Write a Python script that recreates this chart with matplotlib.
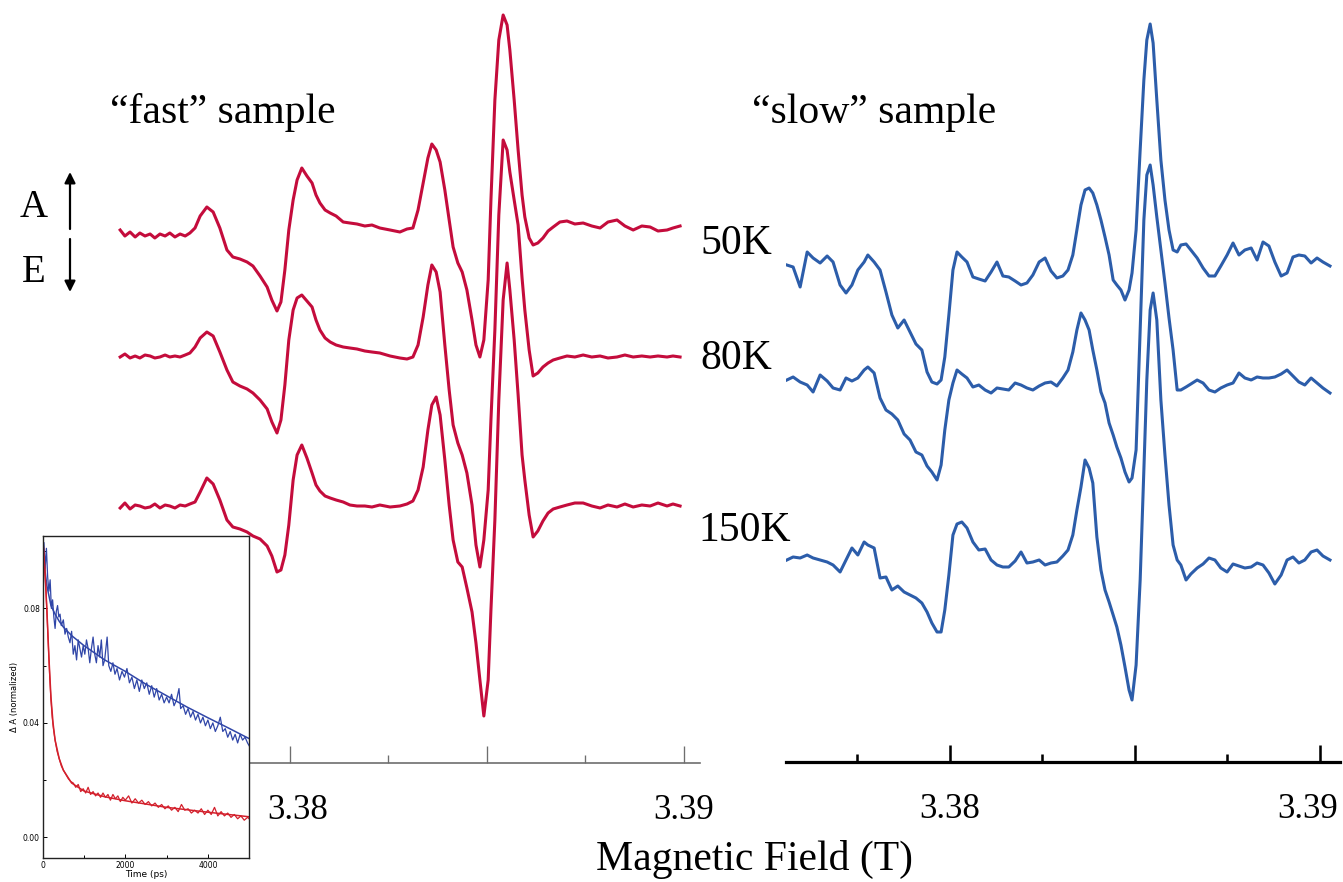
#!/usr/bin/env python3
"""
Transient EPR spectra of the "fast" and "slow" samples at three temperatures,
with the transient absorption decays shown as an inset.
"""

import matplotlib
matplotlib.use('Agg')
import matplotlib.pyplot as plt
import numpy as np
from matplotlib.patches import FancyArrowPatch
from matplotlib.transforms import ScaledTranslation

W, H = 1343, 882

# ---------------------------------------------------------------- data
# field in mT, signal in arbitrary units (positive = absorption)
field_fast = [
    3375.69, 3375.81, 3375.94, 3376.07, 3376.19, 3376.32, 3376.45, 3376.57, 3376.70, 3376.83,
    3376.95, 3377.08, 3377.21, 3377.34, 3377.46, 3377.59, 3377.72, 3377.89, 3378.05, 3378.22,
    3378.40, 3378.55, 3378.73, 3378.91, 3379.06, 3379.24, 3379.42, 3379.54, 3379.67, 3379.77,
    3379.87, 3379.97, 3380.08, 3380.18, 3380.30, 3380.43, 3380.56, 3380.66, 3380.76, 3380.89,
    3381.02, 3381.17, 3381.35, 3381.52, 3381.70, 3381.90, 3382.08, 3382.28, 3382.54, 3382.79,
    3382.97, 3383.12, 3383.25, 3383.38, 3383.50, 3383.60, 3383.71, 3383.81, 3383.93, 3384.04,
    3384.14, 3384.26, 3384.37, 3384.49, 3384.62, 3384.72, 3384.82, 3384.92, 3385.03, 3385.10,
    3385.20, 3385.30, 3385.41, 3385.51, 3385.58, 3385.69, 3385.79, 3385.89, 3385.96, 3386.07,
    3386.17, 3386.29, 3386.42, 3386.55, 3386.68, 3386.85, 3387.03, 3387.23, 3387.44, 3387.66,
    3387.87, 3388.07, 3388.30, 3388.50, 3388.71, 3388.93, 3389.14, 3389.34, 3389.57, 3389.72,
    3389.90,
]
fast_50K = [
    3, -3, 1, -4, 0, -3, -1, -5, -1, -3,
    0, -4, -1, -3, 0, 5, 17, 26, 21, 5,
    -17, -24, -26, -29, -33, -43, -54, -67, -78, -69,
    -37, 3, 33, 53, 65, 57, 50, 38, 30, 23,
    20, 17, 11, 10, 9, 7, 8, 5, 3, 1,
    4, 5, 23, 50, 75, 89, 83, 71, 43, 13,
    -14, -30, -39, -57, -87, -112, -124, -107, -47, 33,
    133, 193, 218, 208, 183, 133, 83, 38, 16, -5,
    -12, -10, -5, 2, 6, 11, 12, 9, 10, 7,
    5, 11, 13, 7, 3, 7, 6, 2, 3, 5,
    7,
]
fast_80K = [
    0, 3, -1, 1, -1, 2, 1, -1, 0, 2,
    0, 1, 0, 2, 4, 10, 19, 25, 21, 5,
    -13, -25, -29, -32, -36, -43, -52, -65, -76, -63,
    -28, 17, 47, 59, 62, 56, 50, 37, 27, 19,
    15, 12, 10, 9, 8, 6, 5, 4, 1, -1,
    -2, 0, 12, 40, 72, 92, 85, 65, 12, -33,
    -68, -86, -98, -116, -148, -188, -210, -183, -133, -63,
    27, 142, 217, 207, 185, 157, 132, 79, 47, 7,
    -19, -16, -10, -6, -3, -1, 1, 0, 2, 0,
    1, -1, 0, 2, 0, 1, 0, 1, 0, 1,
    0,
]
fast_150K = [
    -2, 3, -3, 1, 0, -2, -1, 2, -2, 1,
    0, -2, 1, 0, 2, 4, 14, 28, 22, 6,
    -14, -21, -23, -26, -30, -33, -40, -50, -66, -64,
    -49, -19, 26, 51, 61, 48, 33, 21, 15, 10,
    8, 6, 4, 1, 0, 0, -1, 1, -1, 0,
    2, 5, 16, 39, 76, 101, 109, 91, 46, 1,
    -34, -56, -61, -82, -106, -137, -174, -210, -174, -104,
    -14, 106, 206, 243, 216, 166, 111, 51, 26, -9,
    -31, -25, -15, -7, -3, -1, 1, 3, 3, 0,
    -2, 1, -1, 2, -1, 1, 0, 3, 0, 2,
    0,
]

field_slow = [
    3375.59, 3375.76, 3375.95, 3376.14, 3376.30, 3376.49, 3376.68, 3376.84, 3377.03, 3377.19,
    3377.35, 3377.51, 3377.68, 3377.78, 3377.95, 3378.11, 3378.27, 3378.43, 3378.59, 3378.76,
    3378.92, 3379.08, 3379.24, 3379.38, 3379.51, 3379.65, 3379.76, 3379.86, 3379.97, 3380.08,
    3380.19, 3380.32, 3380.46, 3380.62, 3380.78, 3380.95, 3381.11, 3381.27, 3381.43, 3381.59,
    3381.76, 3381.92, 3382.08, 3382.24, 3382.41, 3382.57, 3382.73, 3382.89, 3383.05, 3383.19,
    3383.32, 3383.43, 3383.54, 3383.65, 3383.76, 3383.86, 3383.97, 3384.08, 3384.19, 3384.30,
    3384.41, 3384.51, 3384.62, 3384.73, 3384.84, 3384.92, 3385.03, 3385.14, 3385.24, 3385.32,
    3385.41, 3385.49, 3385.59, 3385.70, 3385.81, 3385.92, 3386.03, 3386.14, 3386.24, 3386.38,
    3386.51, 3386.68, 3386.84, 3387.00, 3387.16, 3387.32, 3387.49, 3387.65, 3387.81, 3387.97,
    3388.14, 3388.30, 3388.46, 3388.62, 3388.78, 3388.95, 3389.11, 3389.27, 3389.43, 3389.59,
    3389.76, 3389.92, 3390.08, 3390.27,
]
slow_50K = [
    0, -2, -22, 13, 7, 2, 9, 3, -20, -28,
    -20, -5, 3, 10, 3, -5, -27, -50, -63, -55,
    -67, -79, -85, -107, -117, -119, -115, -92, -50, -5,
    13, 8, 3, -12, -14, -16, -7, 3, -11, -12,
    -16, -20, -18, -10, 3, 7, -6, -13, -11, -5,
    10, 35, 60, 75, 77, 72, 60, 45, 28, 10,
    -15, -20, -25, -35, -25, -8, 35, 115, 185, 225,
    241, 222, 165, 105, 65, 35, 15, 13, 20, 21,
    15, 7, -3, -11, -11, -1, 10, 22, 10, 15,
    17, 5, 23, 19, 3, -11, -8, 8, 10, 9,
    2, 7, 3, -1,
]
slow_80K = [
    0, 3, -2, -5, -12, 5, -1, -8, -10, 2,
    -1, 2, 10, 13, 7, -18, -30, -34, -40, -54,
    -60, -72, -75, -86, -92, -100, -85, -50, -20, -3,
    10, 6, 2, -7, -5, -10, -13, -8, -9, -10,
    -3, -5, -8, -10, -6, -3, -2, -6, 2, 10,
    28, 50, 67, 60, 50, 30, 10, -12, -23, -43,
    -55, -67, -78, -92, -102, -98, -70, 50, 160, 205,
    215, 195, 163, 130, 97, 62, 30, -10, -10, -7,
    -4, 0, -3, -10, -12, -8, -5, -3, 7, 2,
    0, 3, 2, 2, 3, 6, 10, 4, -2, -5,
    2, -3, -8, -13,
]
slow_150K = [
    0, 3, 2, 5, 2, 0, -2, -5, -12, 0,
    12, 5, 18, 15, 12, -18, -17, -30, -26, -32,
    -35, -38, -43, -52, -63, -72, -72, -50, -15, 25,
    36, 38, 32, 18, 10, 11, 0, -5, -7, -7,
    -1, 8, -3, -2, 0, -5, -3, -2, 4, 10,
    25, 50, 73, 100, 92, 77, 23, -10, -30, -42,
    -55, -67, -85, -107, -130, -140, -105, -20, 90, 180,
    250, 267, 240, 160, 105, 55, 15, 0, -5, -20,
    -14, -8, -4, 2, 0, -8, -12, -4, -6, -8,
    -7, -3, -5, -13, -24, -15, 0, 3, -3, 0,
    8, 10, 4, 0,
]

temperatures = ['50K', '80K', '150K']

# transient absorption decays (inset): time in ps, normalised dA
slow_decay_t = [
    0, 30, 60, 90, 120, 150, 180, 210, 240, 270, 300, 330, 360, 390, 420, 450,
    500, 540, 580, 620, 660, 700, 740, 780, 820, 860, 900, 940, 980, 1020, 1060,
    1100, 1140, 1180, 1220, 1260, 1300, 1340, 1380, 1420, 1460, 1500, 1560, 1600,
    1650, 1700, 1750, 1800, 1860, 1920, 1980, 2040, 2100, 2160, 2220, 2280, 2340,
    2400, 2460, 2520, 2580, 2640, 2700, 2760, 2820, 2880, 2940, 3000, 3060, 3120,
    3180, 3240, 3300, 3340, 3400, 3460, 3520, 3580, 3640, 3700, 3760, 3820, 3880,
    3940, 4000, 4060, 4120, 4180, 4240, 4300, 4360, 4420, 4480, 4540, 4600, 4660,
    4720, 4780, 4840, 4900, 4960, 5000,
]
slow_decay_a = [
    0.098, 0.103, 0.094, 0.101, 0.091, 0.086, 0.090, 0.080, 0.083, 0.077, 0.073,
    0.079, 0.081, 0.077, 0.078, 0.074, 0.076, 0.071, 0.073, 0.070, 0.068, 0.072,
    0.064, 0.067, 0.062, 0.069, 0.066, 0.063, 0.067, 0.064, 0.069, 0.066, 0.061,
    0.066, 0.070, 0.064, 0.061, 0.067, 0.063, 0.069, 0.060, 0.062, 0.070, 0.060,
    0.058, 0.061, 0.057, 0.059, 0.055, 0.058, 0.056, 0.059, 0.054, 0.056, 0.052,
    0.055, 0.051, 0.055, 0.052, 0.054, 0.050, 0.053, 0.049, 0.052, 0.048, 0.050,
    0.047, 0.049, 0.047, 0.050, 0.046, 0.048, 0.052, 0.045, 0.046, 0.043, 0.045,
    0.042, 0.044, 0.041, 0.043, 0.040, 0.042, 0.039, 0.041, 0.038, 0.040, 0.037,
    0.039, 0.042, 0.037, 0.038, 0.035, 0.037, 0.034, 0.036, 0.033, 0.036, 0.034,
    0.035, 0.033, 0.032,
]
slow_fit_t = [0, 100, 200, 300, 400, 500, 700, 1000, 1500, 2000, 2500, 3000, 3500, 4000, 4500, 5000]
slow_fit_a = [0.100, 0.088, 0.081, 0.078, 0.0755, 0.0735, 0.0705, 0.067, 0.062, 0.058,
              0.0535, 0.0495, 0.0455, 0.0418, 0.0382, 0.0345]

fast_decay_t = [
    0, 0, 20, 50, 80, 110, 140, 170, 200, 230, 260, 300, 350, 400, 450, 500, 560,
    620, 680, 740, 800, 860, 920, 980, 1040, 1100, 1160, 1220, 1280, 1340, 1400,
    1460, 1520, 1580, 1640, 1700, 1760, 1820, 1880, 1940, 2000, 2080, 2160, 2240,
    2320, 2400, 2480, 2560, 2640, 2720, 2800, 2880, 2960, 3040, 3120, 3200, 3280,
    3360, 3440, 3520, 3600, 3680, 3760, 3840, 3920, 4000, 4080, 4160, 4240, 4320,
    4400, 4480, 4560, 4640, 4720, 4800, 4880, 4960, 5000,
]
fast_decay_a = [
    -0.010, 0.105, 0.101, 0.094, 0.086, 0.076, 0.066, 0.056, 0.048, 0.042, 0.038,
    0.034, 0.030, 0.0275, 0.025, 0.0235, 0.022, 0.0205, 0.0195, 0.019, 0.0175,
    0.0185, 0.016, 0.017, 0.0155, 0.0175, 0.015, 0.016, 0.0145, 0.0155, 0.014,
    0.0155, 0.014, 0.015, 0.013, 0.015, 0.0135, 0.0145, 0.0125, 0.014, 0.013,
    0.0145, 0.012, 0.0135, 0.012, 0.013, 0.0115, 0.0125, 0.011, 0.012, 0.0105,
    0.0115, 0.010, 0.011, 0.0095, 0.0105, 0.009, 0.0115, 0.0095, 0.010, 0.0085,
    0.0095, 0.0085, 0.010, 0.008, 0.0095, 0.008, 0.0105, 0.0075, 0.009, 0.0075,
    0.0085, 0.007, 0.008, 0.0065, 0.0075, 0.006, 0.007, 0.0065,
]
fast_fit_t = [0, 50, 100, 150, 200, 250, 300, 400, 500, 700, 1000, 1500, 2000, 3000, 4000, 5000]
fast_fit_a = [0.105, 0.094, 0.080, 0.063, 0.049, 0.040, 0.034, 0.0275, 0.0235, 0.019,
              0.0162, 0.0142, 0.0128, 0.0105, 0.0088, 0.0072]

# ---------------------------------------------------------------- style
RED = '#c40c3c'
BLUE = '#2c5daa'
INSET_RED = '#d3202c'
INSET_BLUE = '#3046a8'
SERIF = 'Liberation Serif'
plt.rcParams['font.family'] = SERIF


def px(x, y):
    """figure fraction from pixel position (origin top-left)"""
    return x / W, 1 - y / H


def panel(fig, left, right, bottom, spine_color, spine_width):
    ax = fig.add_axes([left / W, 1 - bottom / H, (right - left) / W, bottom / H])
    ax.set_ylim(0, bottom)
    for side in ('top', 'left', 'right'):
        ax.spines[side].set_visible(False)
    ax.spines['bottom'].set_color(spine_color)
    ax.spines['bottom'].set_linewidth(spine_width)
    ax.set_yticks([])
    ax.set_xticks([3.38, 3.385, 3.39], ['3.38', '', '3.39'])
    ax.set_xticks([3.3775, 3.3825, 3.3875], minor=True)
    ax.tick_params(axis='x', which='major', direction='in', length=12,
                   width=spine_width * 0.8, color=spine_color, labelsize=25, pad=22)
    ax.tick_params(axis='x', which='minor', direction='in', length=6,
                   width=spine_width * 0.8, color=spine_color)
    ax.patch.set_alpha(0)
    return ax


def shift_label(fig, label, dx):
    # nudge a tick label sideways by dx pixels
    label.set_transform(label.get_transform() + ScaledTranslation(dx / fig.dpi, 0, fig.dpi_scale_trans))


def draw_spectra(ax, field, traces, offsets, color, x_range):
    field_t = np.array(field) / 1000.0
    ax.set_xlim(*x_range)
    for trace, off in zip(traces, offsets):
        ax.plot(field_t, np.array(trace) + off, color=color, lw=2.2,
                solid_joinstyle='round')


def draw_inset(fig):
    ax = fig.add_axes([42.7 / W, 1 - 858 / H, 206.5 / W, 322 / H])
    ax.set_facecolor('white')
    ax.plot(slow_decay_t, slow_decay_a, color=INSET_BLUE, lw=0.9)
    ax.plot(slow_fit_t, slow_fit_a, color=INSET_BLUE, lw=1.1)
    ax.plot(fast_decay_t, fast_decay_a, color=INSET_RED, lw=0.9)
    ax.plot(fast_fit_t, fast_fit_a, color=INSET_RED, lw=1.1)
    ax.set_xlim(0, 5000)
    ax.set_ylim(-0.0072, 0.1053)
    ax.set_xticks([0, 2000, 4000])
    ax.set_xticks([1000, 3000], minor=True)
    ax.set_yticks([0.0, 0.04, 0.08], ['0.00', '0.04', '0.08'])
    ax.set_yticks([0.02, 0.06, 0.10], minor=True)
    ax.tick_params(which='both', direction='in', labelsize=5.5, pad=2,
                   labelfontfamily='DejaVu Sans')
    ax.tick_params(which='major', length=3, width=0.7)
    ax.tick_params(which='minor', length=2, width=0.7)
    for s in ax.spines.values():
        s.set_linewidth(1.0)
        s.set_color('#222222')
    ax.set_xlabel('Time (ps)', fontsize=6.5, family='DejaVu Sans', labelpad=0)
    ax.set_ylabel('\u0394 A (normalized)', fontsize=6, family='DejaVu Sans', labelpad=3)
    return ax


def main():
    fig = plt.figure(figsize=(W / 100, H / 100), dpi=100)

    left = panel(fig, 118, 700, 763, '#6e6e6e', 1.2)
    draw_spectra(left, field_fast, [fast_50K, fast_80K, fast_150K],
                 [530, 406, 257], RED, (3.375635, 3.390406))
    shift_label(fig, left.get_xticklabels()[0], 8)

    right = panel(fig, 786, 1340, 762, 'black', 2.3)
    draw_spectra(right, field_slow, [slow_50K, slow_80K, slow_150K],
                 [497, 382, 202], BLUE, (3.375568, 3.390541))
    shift_label(fig, right.get_xticklabels()[2], -12)

    draw_inset(fig)

    # labels
    fig.text(*px(110, 123), '\u201cfast\u201d sample', fontsize=30, va='baseline')
    fig.text(*px(752, 123), '\u201cslow\u201d sample', fontsize=30, va='baseline')
    for name, (x, y) in zip(temperatures, [(700, 254), (700, 369), (698, 541)]):
        fig.text(*px(x, y), name, fontsize=30, va='baseline')
    fig.text(*px(34, 217), 'A', fontsize=28, va='baseline', ha='center')
    fig.text(*px(34, 282), 'E', fontsize=28, va='baseline', ha='center')
    fig.text(*px(754, 870), 'Magnetic Field (T)', fontsize=30, va='baseline', ha='center')

    # absorption / emission arrows
    for y0, y1 in [(229, 172), (239, 292)]:
        fig.add_artist(FancyArrowPatch(px(70, y0), px(70, y1), transform=fig.transFigure,
                                       arrowstyle='-|>', mutation_scale=16, lw=1.6,
                                       color='black', shrinkA=0, shrinkB=0))

    fig.savefig('out.png', dpi=100)


if __name__ == '__main__':
    main()
